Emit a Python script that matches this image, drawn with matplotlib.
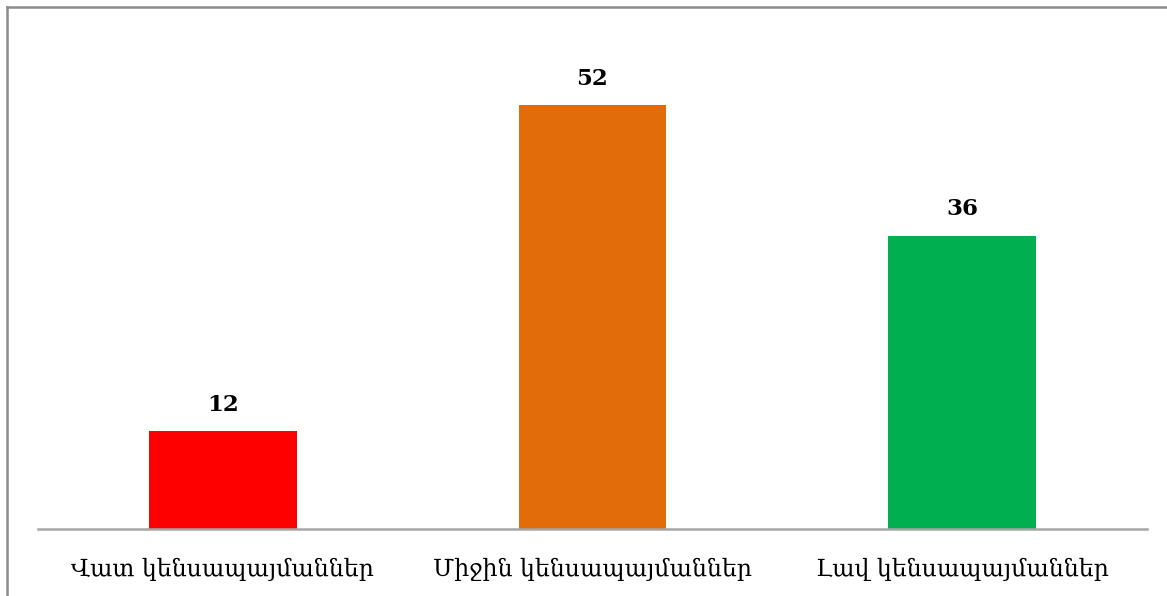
import matplotlib.pyplot as plt
from matplotlib.lines import Line2D
import numpy as np

categories = ["Վատ կենսապայմաններ", "Միջին կենսապայմաններ", "Լավ կենսապայմաններ"]
values = [12, 52, 36]
colors = ["#ff0000", "#e36c0a", "#00b050"]

W, H = 1167, 596
fig = plt.figure(figsize=(W / 100, H / 100), dpi=100, facecolor="white")
ax = fig.add_axes([38 / W, 1 - 529 / H, (1147 - 38) / W, 489 / H])

x = np.arange(len(categories))
bars = ax.bar(x, values, width=0.40, color=colors)
for xi, v in zip(x, values):
    ax.text(xi, v + 1.9, f"{v}", ha="center", va="bottom", fontsize=16.5,
            fontweight="bold", family="DejaVu Serif", color="black")

ax.set_xlim(-0.5, 2.5)
ax.set_ylim(0, 60)
ax.set_yticks([])
ax.set_xticks(x)
ax.set_xticklabels(categories, family="DejaVu Serif", fontsize=17)
ax.tick_params(axis="x", length=0, pad=21)
for s in ["top", "right", "left"]:
    ax.spines[s].set_visible(False)
ax.spines["bottom"].set_color("#a6a6a6")
ax.spines["bottom"].set_linewidth(1.8)

# outer chart frame (partly outside the picture)
fx, fy = 7 / W, 1 - 7 / H
fig.add_artist(Line2D([fx, 1.0], [fy, fy], color="#8c8c8c", lw=1.8))
fig.add_artist(Line2D([fx, fx], [0, fy], color="#8c8c8c", lw=1.8))

fig.savefig("out.png", dpi=100, facecolor="white")
